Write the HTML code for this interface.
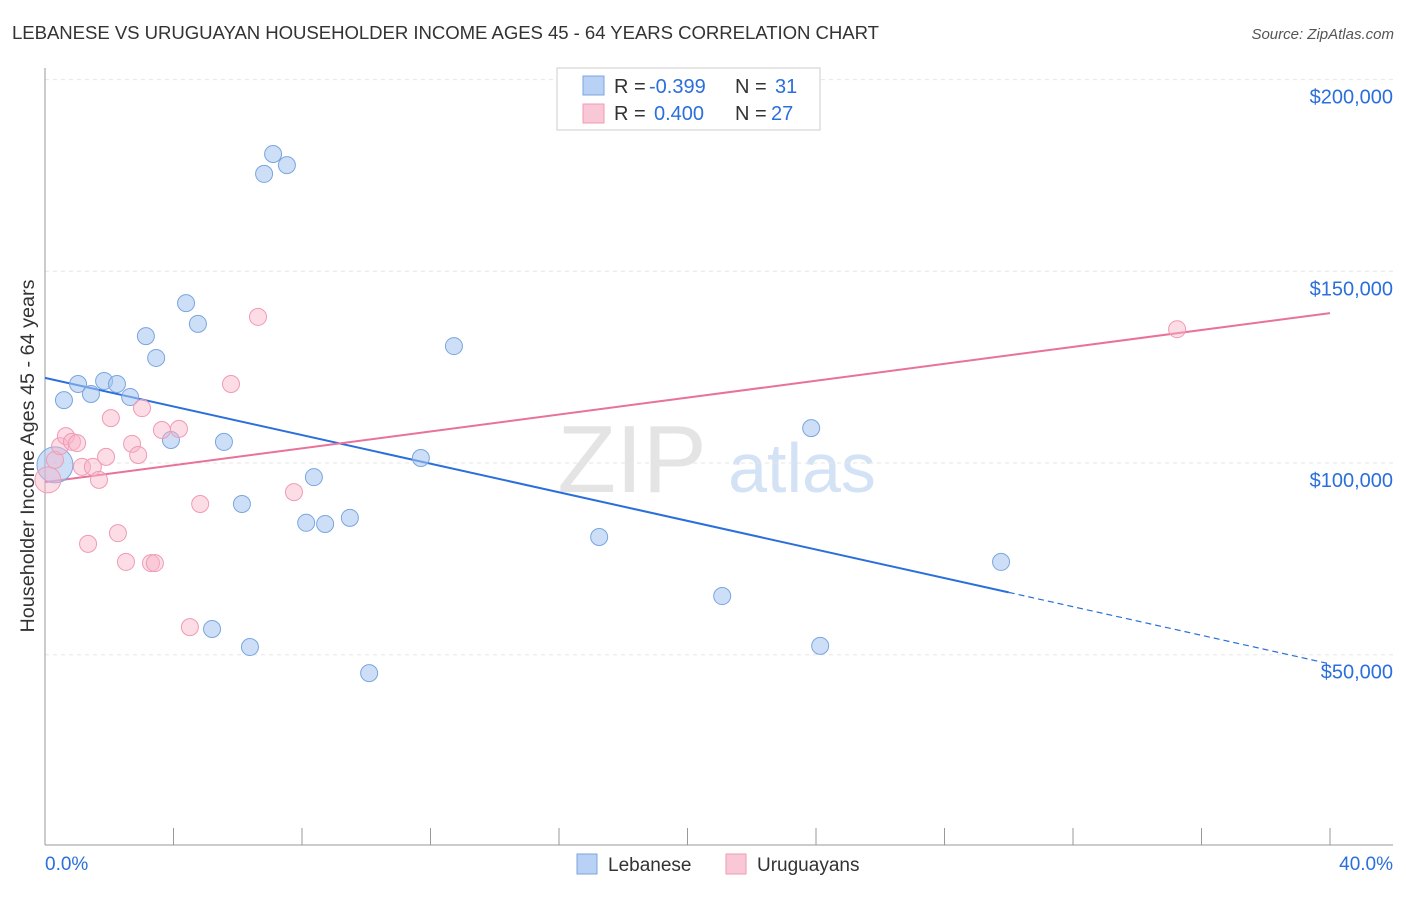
<!DOCTYPE html>
<html><head><meta charset="utf-8"><style>
body{margin:0;background:#fff;font-family:"Liberation Sans",sans-serif;}
svg text{font-family:"Liberation Sans",sans-serif;}
</style></head><body>
<svg id="c" width="1406" height="892" xmlns="http://www.w3.org/2000/svg">
<text x="12" y="39" font-size="18.6" fill="#333" textLength="867">LEBANESE VS URUGUAYAN HOUSEHOLDER INCOME AGES 45 - 64 YEARS CORRELATION CHART</text>
<text x="1394" y="39" font-size="15" fill="#555" font-style="italic" text-anchor="end">Source: ZipAtlas.com</text>
<text x="632" y="492" font-size="96" fill="#e4e4e4" font-family="Liberation Serif" text-anchor="middle">ZIP</text>
<text x="802" y="492" font-size="70" fill="#d4e2f5" text-anchor="middle">atlas</text>
<g id="grid"></g><g id="axes"></g><g id="lines"></g><g id="pts"></g>
<g>
<rect x="557" y="68" width="263" height="62" fill="#fff" stroke="#ccc"/>
<rect x="583" y="76" width="21" height="19" fill="#b8d1f5" stroke="#7aa5e0"/>
<rect x="583" y="104" width="21" height="19" fill="#f9c8d6" stroke="#f09ab5"/>
<text x="614" y="93" font-size="20" fill="#333">R =</text>
<text x="649" y="93" font-size="20" fill="#2a6fdb">-0.399</text>
<text x="735" y="93" font-size="20" fill="#333">N =</text>
<text x="775" y="93" font-size="20" fill="#2a6fdb">31</text>
<text x="614" y="120" font-size="20" fill="#333">R =</text>
<text x="654" y="120" font-size="20" fill="#2a6fdb">0.400</text>
<text x="735" y="120" font-size="20" fill="#333">N =</text>
<text x="771" y="120" font-size="20" fill="#2a6fdb">27</text>
</g>
<g>
<rect x="577" y="854" width="20" height="20" fill="#b8d1f5" stroke="#7aa5e0"/>
<text x="608" y="871" font-size="19" fill="#333">Lebanese</text>
<rect x="726" y="854" width="20" height="20" fill="#f9c8d6" stroke="#f09ab5"/>
<text x="757" y="871" font-size="19" fill="#333">Uruguayans</text>
</g>
<text x="45" y="870" font-size="19" fill="#2a6fdb">0.0%</text>
<text x="1393" y="870" font-size="19" fill="#2a6fdb" text-anchor="end">40.0%</text>
<text transform="translate(34,456) rotate(-90)" font-size="19.8" fill="#333" text-anchor="middle">Householder Income Ages 45 - 64 years</text>
</svg>
<script>
const blueX=[0.31,0.59,1.03,1.43,1.84,2.24,2.65,3.14,3.46,3.92,4.39,4.76,5.20,5.57,6.13,6.38,6.82,7.10,7.53,8.13,8.37,8.72,9.49,10.09,11.70,12.73,17.25,21.08,23.85,24.13,29.76];
const blueY=[99.5,116.4,120.6,118.0,121.4,120.6,117.2,133.1,127.4,106.0,141.7,136.3,56.7,105.5,89.3,52.0,175.4,180.6,177.7,84.4,96.3,84.1,85.7,45.2,101.3,130.5,80.7,65.3,109.1,52.3,74.2];
const pinkX=[0.09,0.31,0.47,0.65,0.84,1.00,1.15,1.34,1.49,1.68,1.90,2.05,2.27,2.52,2.71,2.90,3.02,3.30,3.42,3.64,4.17,4.51,4.83,5.79,6.63,7.75,35.24];
const pinkY=[95.6,100.8,104.4,107.0,105.5,105.2,99.0,78.9,99.0,95.6,101.6,111.7,81.7,74.2,105.0,102.1,114.3,73.9,73.9,108.6,108.9,57.2,89.3,120.6,138.1,92.4,134.9];
const blueTrend=[122.2,47.6];
const pinkTrend=[95.0,139.1];
const yTicks=[50,100,150,200];
const yTickLabels=["$50,000","$100,000","$150,000","$200,000"];
const xTicks=[0,4,8,12,16,20,24,28,32,36,40];
const NS="http://www.w3.org/2000/svg";
const sx=v=>45+v*1285/40, sy=v=>463-(v-100)*191.7/50;
function mk(t,a,p){const e=document.createElementNS(NS,t);for(const k in a)e.setAttribute(k,a[k]);p.appendChild(e);return e;}
const grid=document.getElementById('grid'),axes=document.getElementById('axes'),lines=document.getElementById('lines'),pts=document.getElementById('pts');
yTicks.forEach((t,i)=>{
 const l=mk('line',{x1:45,x2:1393,y1:sy(t),y2:sy(t),stroke:'#e6e6e6','stroke-dasharray':'4,4'},grid);
 
 
 const tx=mk('text',{x:1393,y:sy(t)+24,'font-size':20,fill:'#2a6fdb','text-anchor':'end'},grid);
 tx.textContent=yTickLabels[i];
 
 
});
const ax=mk('line',{x1:45,x2:1393,y1:845,y2:845,stroke:'#999'},axes);


const ay=mk('line',{x1:45,x2:45,y1:68,y2:845,stroke:'#999'},axes);


xTicks.forEach(t=>{const l=mk('line',{x1:sx(t),x2:sx(t),y1:828,y2:845,stroke:'#999'},axes);
 
 });
function pt(x,y,r,f,s,n){const c=mk('circle',{cx:sx(x),cy:sy(y),r:r,fill:f,stroke:s,'stroke-width':1},pts);
 
 }
blueX.forEach((x,i)=>pt(x,blueY[i],i===0?18:8.5,'rgba(164,196,240,0.55)','#7aa5e0','lebanese-point'));
pinkX.forEach((x,i)=>pt(x,pinkY[i],i===0?13:8.5,'rgba(248,180,200,0.45)','#f09ab5','uruguayan-point'));
const bAt=x=>blueTrend[0]+(blueTrend[1]-blueTrend[0])*x/40;
const b1=mk('line',{x1:sx(0),y1:sy(bAt(0)),x2:sx(30),y2:sy(bAt(30)),stroke:'#2a6fdb','stroke-width':2},lines);


const b2=mk('line',{x1:sx(30),y1:sy(bAt(30)),x2:sx(40),y2:sy(bAt(40)),stroke:'#2a6fdb','stroke-width':1.2,'stroke-dasharray':'6,4'},lines);


const p1=mk('line',{x1:sx(0),y1:sy(pinkTrend[0]),x2:sx(40),y2:sy(pinkTrend[1]),stroke:'#e8729a','stroke-width':2},lines);


</script>
</body></html>
